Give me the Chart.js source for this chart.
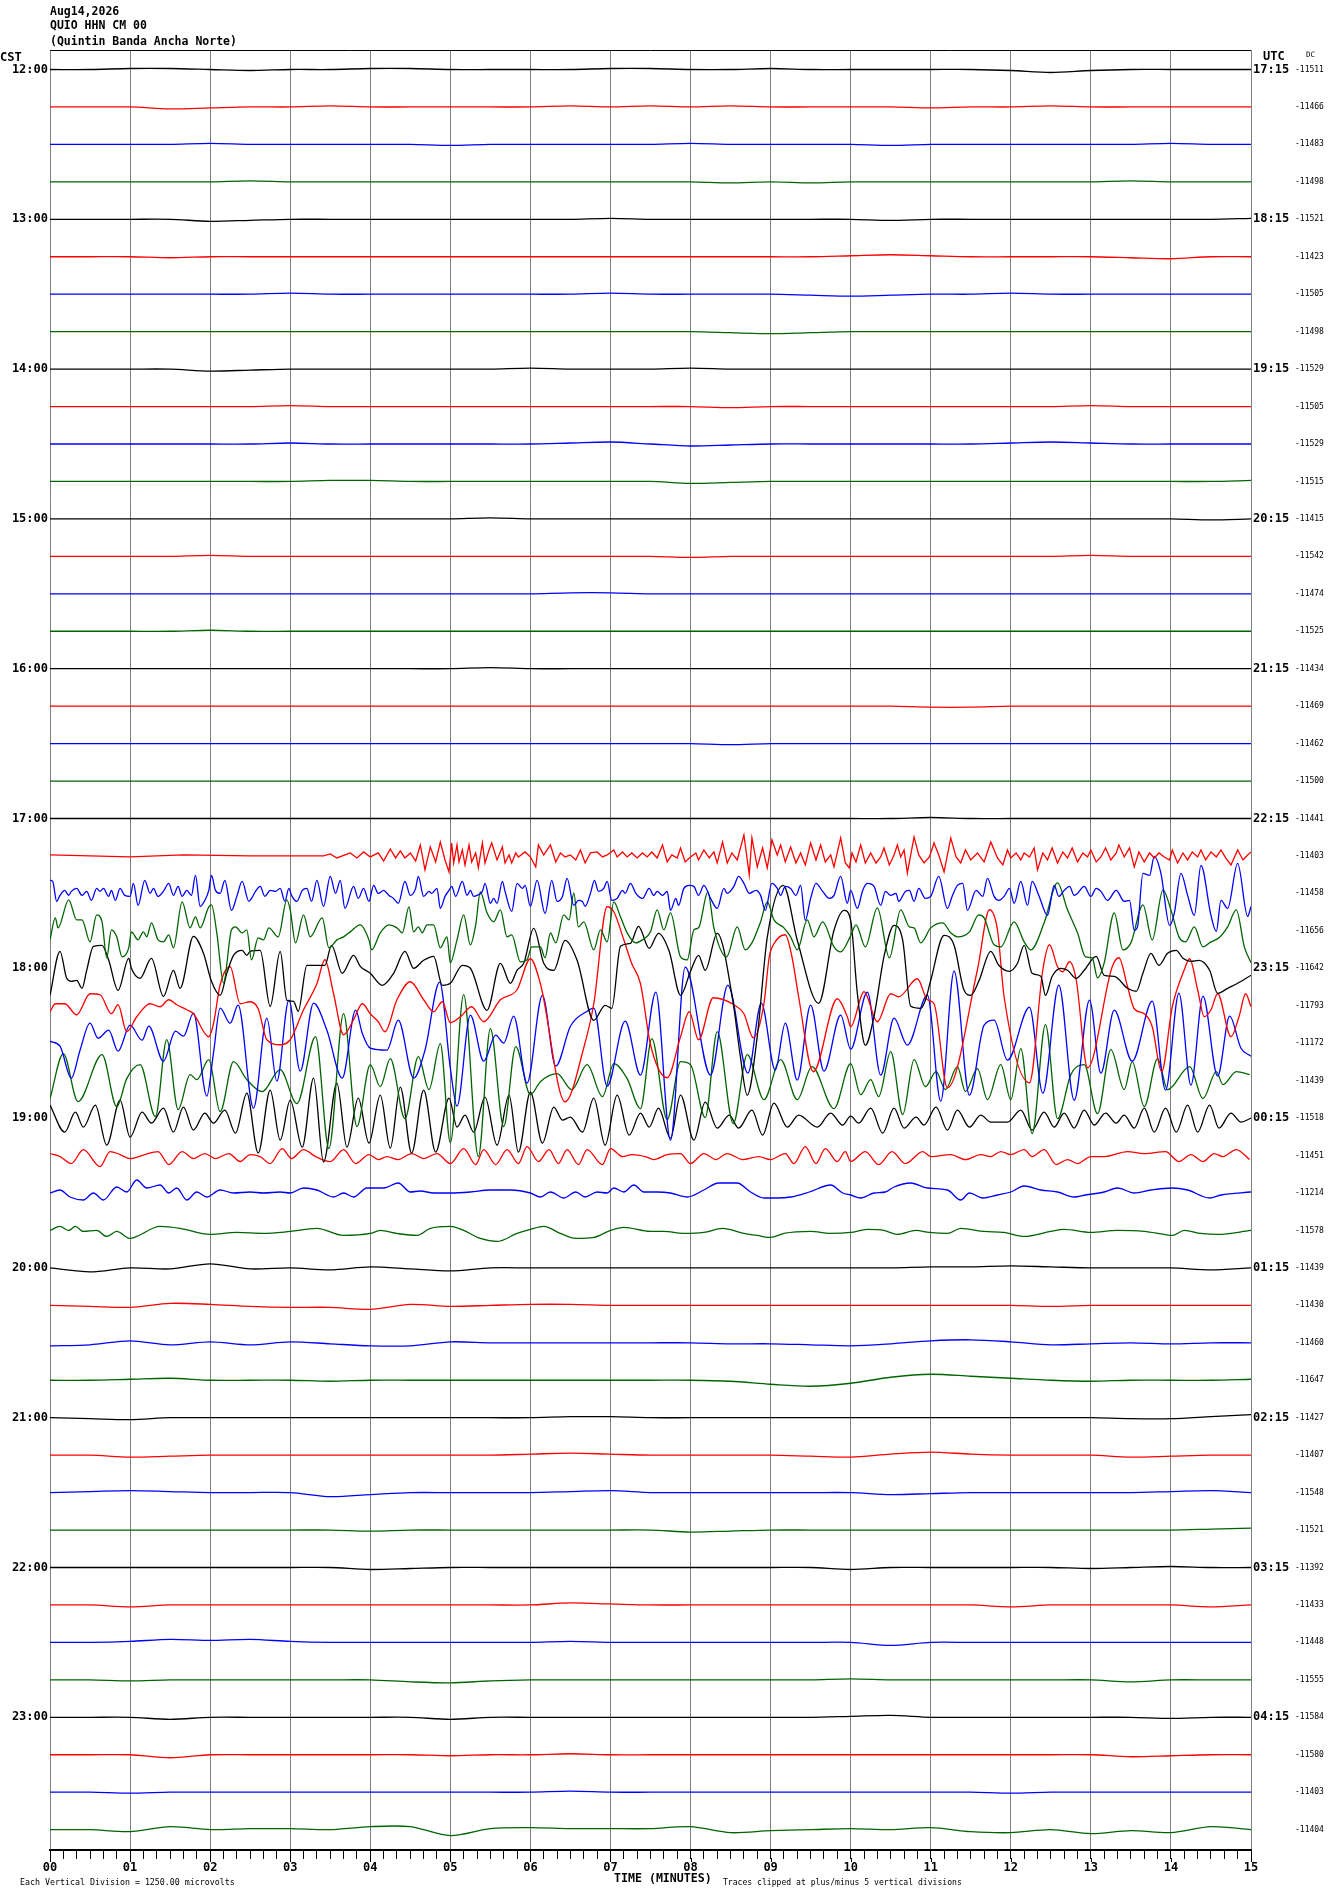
<!DOCTYPE html>
<html>
<head>
<meta charset="utf-8">
<script src="https://cdn.jsdelivr.net/npm/chart.js@4.4.1/dist/chart.umd.min.js"></script>
<style>
html, body { margin: 0; padding: 0; background: #fff; }
#wrap { position: relative; width: 1330px; height: 1894px; overflow: hidden; }
#wrap canvas { position: absolute; left: 0; top: 0; }
.t { position: absolute; font-family: "DejaVu Sans Mono", monospace; color: #000; white-space: pre; line-height: 1; }
.b { font-weight: bold; }
</style>
</head>
<body>
<div id="wrap">
  <canvas id="heli" width="1330" height="1894"></canvas>
  <div class="t b" style="left:50px;top:6px;font-size:11.5px">Aug14,2026</div>
  <div class="t b" style="left:50px;top:20px;font-size:11.5px">QUIO HHN CM 00</div>
  <div class="t b" style="left:50px;top:35.5px;font-size:11.5px">(Quintin Banda Ancha Norte)</div>
  <div class="t b" style="left:0px;top:51px;font-size:12px">CST</div>
  <div class="t b" style="left:1263px;top:50px;font-size:12px">UTC</div>
  <div class="t" style="left:1306px;top:51px;font-size:7.5px">DC</div>
  <div class="t" style="left:20px;top:1878px;font-size:8.3px">Each Vertical Division = 1250.00 microvolts</div>
  <div class="t b" style="left:614px;top:1873px;font-size:11.6px">TIME (MINUTES)</div>
  <div class="t" style="left:723px;top:1878px;font-size:8.1px">Traces clipped at plus/minus 5 vertical divisions</div>
</div>
<script>
// row labels
const cstLabels = ['12:00', '13:00', '14:00', '15:00', '16:00', '17:00', '18:00', '19:00', '20:00', '21:00', '22:00', '23:00'];
const utcLabels = ['17:15', '18:15', '19:15', '20:15', '21:15', '22:15', '23:15', '00:15', '01:15', '02:15', '03:15', '04:15'];
const minuteLabels = ['00', '01', '02', '03', '04', '05', '06', '07', '08', '09', '10', '11', '12', '13', '14', '15'];
const dcValues = [-11511, -11466, -11483, -11498, -11521, -11423, -11505, -11498,
    -11529, -11505, -11529, -11515, -11415, -11542, -11474, -11525,
    -11434, -11469, -11462, -11500, -11441, -11403, -11458, -11656,
    -11642, -11793, -11172, -11439, -11518, -11451, -11214, -11578,
    -11439, -11430, -11460, -11647, -11427, -11407, -11548, -11521,
    -11392, -11433, -11448, -11555, -11584, -11580, -11403, -11404];

// quiet traces: amplitude every 30 s across the 15 minutes
const r1200 = [0,0,1,1,0, -1,0,0,1,1, 0,0,0,0,1, 1,0,0,1,0, 0,0,0,0,-1, -3,-1,0,0,0, 0];
const r1215 = [0,0,0,-2,-1, 0,0,1,0,0, 0,0,0,1,0, 1,0,1,0,0, 0,0,-1,0,0, 1,0,0,0,0, 0];
const r1230 = [0,0,0,0,1, 0,0,0,0,0, -1,0,0,0,0, 0,1,0,0,0, 0,-1,0,0,0, 0,0,0,1,0, 0];
const r1245 = [0,0,0,0,0, 1,0,0,0,0, 0,0,0,0,0, 0,0,-1,0,-1, 0,0,0,0,0, 0,0,1,0,0, 0];
const r1300 = [0,0,0,0,-2, -1,0,0,0,0, 0,0,0,0,1, 0,0,0,0,0, 0,-1,0,0,0, 0,0,0,0,0, 1];
const r1315 = [0,0,0,-1,0, 0,0,0,0,0, 0,0,0,0,0, 0,0,0,0,0, 1,2,1,0,0, 0,0,-1,-2,0, 0];
const r1330 = [0,0,0,0,0, 0,1,0,0,0, 0,0,0,0,1, 0,0,0,0,-1, -2,-1,0,0,1, 0,0,0,0,0, 0];
const r1345 = [0,0,0,0,0, 0,0,0,0,0, 0,0,0,0,0, 0,0,-1,-2,-1, 0,0,0,0,0, 0,0,0,0,0, 0];
const r1400 = [0,0,0,0,-2, -1,0,0,0,0, 0,0,1,0,0, 0,1,0,0,0, 0,0,0,0,0, 0,0,0,0,0, 0];
const r1415 = [0,0,0,0,0, 0,1,0,0,0, 0,0,0,0,0, 0,0,-1,0,0, 0,0,0,0,0, 0,1,0,0,0, 0];
const r1430 = [0,0,0,0,0, 0,1,0,0,0, 0,0,0,1,2, 0,-2,-1,0,0, 0,0,0,0,1, 2,1,0,0,0, 0];
const r1445 = [0,0,0,0,0, 0,0,1,1,0, 0,0,0,0,0, 0,-2,-1,0,0, 0,0,0,0,0, 0,0,0,0,0, 1];
const r1500 = [0,0,0,0,0, 0,0,0,0,0, 0,1,0,0,0, 0,0,0,0,0, 0,0,0,0,0, 0,0,0,0,-1, 0];
const r1515 = [0,0,0,0,1, 0,0,0,0,0, 0,0,0,0,0, 0,-1,0,0,0, 0,0,0,0,0, 0,1,0,0,0, 0];
const r1530 = [0,0,0,0,0, 0,0,0,0,0, 0,0,0,1,1, 0,0,0,0,0, 0,0,0,0,0, 0,0,0,0,0, 0];
const r1545 = [0,0,0,0,1, 0,0,0,0,0, 0,0,0,0,0, 0,0,0,0,0, 0,0,0,0,0, 0,0,0,0,0, 0];
const r1600 = [0,0,0,0,0, 0,0,0,0,0, 0,1,0,0,0, 0,0,0,0,0, 0,0,0,0,0, 0,0,0,0,0, 0];
const r1615 = [0,0,0,0,0, 0,0,0,0,0, 0,0,0,0,0, 0,0,0,0,0, 0,0,-1,-1,0, 0,0,0,0,0, 0];
const r1630 = [0,0,0,0,0, 0,0,0,0,0, 0,0,0,0,0, 0,0,-1,0,0, 0,0,0,0,0, 0,0,0,0,0, 0];
const r1645 = [0,0,0,0,0, 0,0,0,0,0, 0,0,0,0,0, 0,0,0,0,0, 0,0,0,0,0, 0,0,0,0,0, 0];
const r1700 = [0,0,0,0,0, 0,0,0,0,0, 0,0,0,0,0, 0,0,0,0,0, 0,0,1,0,0, 0,0,0,0,0, 0];

// earthquake traces: [seconds, amplitude] at each peak and trough
const r1715 = [[0,1],[30,0],[60,-1],[100,1],[150,0],[180,0],[205,0],[210,2],[215,-2],[225,3],[230,-2],[235,4],[240,-1],
    [246,3],[250,-5],[255,7],[259,-2],[262.5,5],[266,-2],[270,3],[274,-5],[277.5,11],[281,-14],[285,9],[289,-6],[292.5,14],[296,-4],[299,-16],
    [301,13],[302.5,-7],[305,11],[306.5,-6],[309,6],[311,-9],[314,11],[316,-6],[319,3],[321,-12],[324,13],[326,-7],[329,6],[331,13],[335,-4],[339,9],[341,-7],[344,1],[346,-7],[349,3],[351,-1],[356,4],[360,-1],[364,-11],[366,11],[370,1],[375,11],[379,-6],[382.5,3],[386,-1],[390,1],[394,-4],[397.5,6],[401,-7],[405,3],[410,4],[414,-1],[417.5,1],[422.5,6],[425,-1],[429,4],[432.5,-1],[436,3],[440,-2],[444,3],[447.5,-1],[451,4],[455,-2],[459,11],[462.5,-6],[466,1],[470,-2],[472.5,8],[476,-6],[480,-1],[484,3],[486,-4],[490,6],[494,-2],[497.5,4],[500,-7],[504,14],[507.5,-7],[511,3],[515,-4],[520,21],[524,-19],[526,18],[530,-11],[534,8],[537.5,-12],[541,16],[545,1],[547.5,11],[551,-6],[555,9],[559,-7],[562.5,3],[566,-9],[570,13],[574,-4],[577.5,11],[581,-6],[585,1],[587.5,-11],[592.5,18],[596,-7],[599,-12],
    [601,3],[604,-6],[607.5,11],[611,-7],[615,3],[619,-7],[622.5,-1],[625,8],[629,-9],[632.5,1],[635,11],[637.5,-1],[640,6],[642.5,-17],[647.5,19],[651,1],[655,-7],[659,-1],[662.5,13],[666,1],[670,-16],[675,18],[679,-1],[682.5,-7],[686,6],[690,-4],[695,3],[700,-6],[705,14],[710,-2],[714,-9],[717.5,6],[720,-2],[724,3],[727.5,-4],[730,3],[734,-1],[737.5,8],[740,-14],[744,3],[747.5,-4],[751,8],[755,-7],[759,4],[762.5,-2],[766,8],[770,-6],[774,3],[777.5,-1],[780,6],[784,-6],[787.5,-1],[791,8],[795,-4],[799,3],[801,11],[805,-1],[809,8],[812.5,-11],[816,4],[820,-6],[824,3],[827.5,-2],[831,3],[835,-1],[839,-4],[841,6],[845,-7],[849,3],[852.5,-4],[856,4],[860,-1],[862.5,6],[866,-4],[870,4],[874,-1],[877.5,6],[881,-2],[885,-9],[890,6],[894,-4],[897.5,1],[900,4]];

const r1730 = [[0,13],[2,12],[5,-8],[7.5,-2],[11,3],[14,-2],[16,2],[20,5],[24,-2],[27.5,2],[31,-7],[35,5],[37.5,2],[40,5],[44,-3],[46,3],[49,-7],[52.5,5],[56,-2],[60,-3],[62.5,10],[66,-12],[71,13],[75,0],[77.5,5],[81,-3],[85,2],[89,10],[92.5,-2],[96,7],[99,-3],[102.5,3],[106,-2],[109,18],[112.5,-13],[116,-7],[119,3],[121,18],[124,3],[127.5,0],[131,13],[136,-17],[140,-3],[144,12],[149,-8],[151,-5],[154,2],[157.5,7],[161,-3],[165,3],[169,2],[172.5,5],[176,-8],[179,5],[181,-2],[185,-8],[189,3],[192.5,5],[196,-8],[200,13],[205,-13],[210,17],[214,0],[217.5,13],[221,-15],[227.5,7],[231,-5],[235,5],[239,-8],[242.5,8],[246,0],[250,3],[254,-2],[257.5,-5],[261,-10],[266,12],[270,-2],[274,5],[276,17],[280,-3],[284,2],[286,0],[290,5],[292.5,-15],[296,-3],[299,3],
    [301,7],[304,-3],[309,12],[312.5,-2],[315,3],[317.5,-3],[320,-2],[324,2],[326,10],[330,-10],[332.5,-5],[335,-10],[339,12],[341,2],[346,-18],[350,10],[354,5],[356,8],[360,-13],[365,13],[371,-20],[376,13],[380,-8],[384,-3],[387.5,15],[392.5,-12],[396,-7],[399,-8],[401,-13],[405,0],[408,13],[411,2],[415,5],[417.5,12],[421,-7],[425,-5],[429,3],[431,0],[435,10],[439,0],[444,-5],[449,5],[452.5,-2],[455,2],[459,-2],[462.5,2],[465,-17],[469,-5],[471,-12],[475,5],[479,8],[482.5,7],[486,-2],[490,8],[495,-5],[500,-15],[505,5],[507.5,0],[512.5,7],[516,17],[520,10],[524,0],[529,3],[532.5,-2],[536,-17],[541,10],[545,5],[547.5,-2],[551,7],[555,5],[559,-2],[562.5,8],[566,-27],[570,-5],[574,10],[579,2],[584,-5],[587.5,-2],[592.5,17],[597.5,-10],
    [600,3],[605,-15],[609,3],[612.5,10],[617.5,7],[622.5,-12],[626,2],[630,-2],[634,0],[636,-8],[641,2],[644,3],[647.5,-8],[651,5],[656,-5],[660,-3],[666,17],[672.5,-15],[676,-3],[680,8],[684,10],[687.5,-17],[694,3],[699,-3],[702.5,15],[707.5,-3],[711,-7],[715,-3],[719,5],[722.5,-10],[727.5,12],[732.5,-12],[736,12],[741,-2],[747.5,-22],[752.5,8],[756,-3],[760,3],[764,7],[767.5,-2],[770,0],[775,7],[780,-3],[784,5],[787.5,2],[792.5,-7],[799,3],[805,-8],[809,-7],[812.5,-37],[815,-33],[819,20],[824,18],[827.5,37],[832.5,20],[839,-32],[842.5,-20],[847.5,20],[852.5,-2],[857.5,-22],[862.5,28],[870,-22],[874,-38],[877.5,-7],[882.5,-15],[890,30],[897.5,-23],[900,-13]];

const r1745 = [[0,-9],[4,13],[6,3],[14,31],[20,11],[24,11],[30,-11],[35,16],[39,9],[42.5,-27],[46,1],[50,-6],[54,-26],[59,-17],[61,-1],[66,-9],[70,-1],[72.5,-6],[76,8],[81,-9],[85,-11],[89,-4],[92.5,-17],[99,29],[105,3],[109,14],[112.5,3],[119,24],[121,26],[125,-2],[130,-52],[136,1],[139,4],[144,-2],[147.5,1],[151,-29],[156,-7],[160,-9],[164,3],[171,-6],[177.5,31],[180,21],[184,-12],[190,16],[195,-6],[204,13],[209,-17],[215,-9],[220,-6],[225,-1],[232.5,6],[239,-9],[241,-19],[247.5,-2],[254,6],[260,3],[264,-2],[269,24],[272.5,-1],[276,4],[279,-2],[282.5,6],[287.5,6],[292.5,-17],[297.5,-6],
    [300,-32],[305,-9],[310,16],[315,-14],[319,6],[322.5,39],[327.5,18],[332.5,9],[337.5,21],[342.5,-6],[346,-4],[352.5,-31],[357.5,-29],[361,-16],[367.5,-16],[371,-27],[375,-2],[379,-12],[385,16],[389,11],[392.5,38],[396,4],[400,9],[407.5,-19],[412.5,1],[417.5,-11],[422.5,29],[427.5,14],[432.5,-2],[439,-12],[444,-9],[450,-1],[455,21],[460,1],[465,18],[472.5,-26],[477.5,-29],[482.5,1],[486,3],[493,39],[497.5,3],[507,-26],[515,4],[521,-19],[526,-12],[532.5,9],[537.5,29],[542.5,11],[550,3],[555,-6],[560,-19],[567.5,11],[572.5,-6],[579,9],[587.5,-16],[592.5,-21],
    [600,-5],[604,6],[611,-16],[620,23],[629,-27],[637.5,21],[644,4],[647.5,3],[652.5,-12],[660,3],[669,8],[675,-2],[680,-6],[689,-1],[696,16],[700,13],[707.5,-14],[712.5,-16],[722.5,9],[730,-11],[735,-19],[745,8],[755,48],[762.5,21],[770,-2],[776,-26],[781,-27],[785,-47],[790,-32],[797.5,18],[804,-19],[810,-12],[819,26],[826,-9],[834,41],[840,21],[846,-6],[851,-11],[857.5,4],[864,-16],[870,-11],[876,-7],[882.5,4],[889,21],[895,-16],[900,-32]];

const r1800 = [[0,-27],[7.5,17],[12.5,-10],[16,-13],[20,-12],[24,-20],[27.5,-2],[32.5,22],[39,23],[44,8],[51,-22],[59,10],[61,0],[67.5,-10],[76,10],[85,-28],[92.5,-2],[97.5,-20],[107.5,32],[115,15],[121,-13],[127.5,-27],[132.5,-5],[137.5,13],[144,18],[147.5,13],[150,17],[157.5,18],[165,-38],[172.5,17],[177.5,-32],[182.5,-33],[186,-43],[192.5,3],[200,3],[206,3],[211,23],[219,-5],[227.5,13],[232.5,2],[240,-5],[249,-17],[257.5,-5],[266,17],[272.5,0],[280,8],[287.5,12],[294,-17],
    [300,-15],[309,3],[315,0],[327.5,-42],[337.5,5],[345,-15],[350,-2],[355,5],[362.5,40],[370,5],[377.5,-2],[386,28],[395,8],[407.5,-52],[416,-37],[421,-40],[427.5,22],[435,25],[441,42],[449,20],[456,35],[464,17],[472.5,-27],[480,-3],[486,13],[491,-2],[500,35],[512,-35],[517,-85],[522.5,-127],[530,-68],[537.5,31],[549.5,83],[560,28],[576,-35],[587.5,38],[595,58],[600,48],
    [605,-25],[611,-77],[617.5,-48],[625,12],[632.5,43],[639,28],[645,-38],[652.5,-40],[656,-32],[660,-12],[670,33],[677.5,23],[685,-22],[690,-27],[696,-13],[705,17],[711,3],[719,-3],[725,5],[730,23],[736,-5],[742.5,-8],[746,-27],[751,-8],[757.5,0],[762.5,-2],[769,-10],[775,-2],[784,12],[790,-7],[797.5,-8],[807.5,-20],[814,-23],[819,-5],[825,15],[831,3],[837.5,15],[844,18],[849,10],[855,7],[861,8],[869,-2],[875,-25],[882.5,-20],[890,-15],[900,-7]];

const r1815 = [[0,-6],[4,2],[11,2],[20,-9],[30,12],[37.5,11],[46,-8],[51,1],[57.5,-26],[65,-11],[75,2],[82.5,-1],[89,6],[95,1],[102.5,-4],[107.5,-8],[119,-31],[122.5,-18],[127.5,21],[135,39],[142.5,2],[150,4],[156,-3],[162.5,-34],[172.5,-39],[180,-34],[190,-4],[200,22],[206,46],[212.5,12],[220,-29],[227.5,-14],[234,2],[240,-8],[246,-16],[251,-26],[260,6],[270,24],[280,6],[287.5,-6],[294,4],
    [300,-17],[307.5,-11],[316,-1],[325,-16],[337.5,6],[350,16],[360,47],[367.5,22],[386,-96],[400,-42],[407.5,2],[417.5,99],[422.5,94],[430,66],[436,42],[442.5,22],[450,-39],[462.5,-72],[472.5,-31],[479,-6],[486,-34],[497,8],[512.5,1],[520,-8],[527,-32],[535,2],[539,49],[542.5,62],[551,71],[556,49],[561,9],[572,-66],[590,7],[597.5,-11],
    [600,-21],[610,14],[620,-16],[630,12],[636,9],[650,27],[657.5,6],[662.5,2],[672.5,-82],[695,36],[704,96],[710,76],[715,9],[734,-77],[744,36],[749,61],[755,39],[759,34],[764,44],[769,26],[777.5,-62],[796,39],[801,48],[807.5,19],[812.5,-3],[820,-8],[826,-21],[833,-66],[841,-1],[850,36],[854,47],[860,16],[865,-11],[870,-4],[875,12],[885,-31],[891,-11],[896,12],[900,-1]];

const r1830 = [[0,2],[7.5,-3],[16,-35],[22.5,-7],[30,20],[36,5],[44,13],[51,-8],[60,18],[69,3],[74,17],[85,-18],[94,12],[100,7],[107.5,30],[117.5,-53],[122.5,-10],[127.5,35],[135,20],[141,38],[152.5,-65],[162.5,25],[170,-38],[179,43],[187.5,-28],[197.5,40],[207.5,13],[219,-35],[229,33],[234,10],[240,-5],[252.5,-7],[261,23],[272.5,-35],[281,-7],[292,61],
    [300,-25],[305,-63],[315,28],[325,-18],[334,8],[340,0],[347.5,27],[357.5,-40],[369,48],[379,-23],[390,17],[402.5,32],[407.5,35],[417.5,-43],[431,22],[442.5,-32],[454,51],[465,-97],[476,76],[495,-32],[508,58],[523,-30],[533,40],[543.5,-27],[551,20],[560,-37],[570,38],[580,-28],[592.5,28],
    [600,-6],[612.5,51],[622.5,-32],[632.5,25],[642.5,-2],[657.5,48],[667.5,-58],[677.5,72],[689,-52],[700,18],[707.5,23],[717.5,-17],[734,36],[744,-50],[756,58],[767.5,-57],[779,43],[787.5,-30],[797.5,33],[811,-18],[826,42],[836,-47],[846,50],[855,-42],[864,47],[875,-33],[884,27],[892.5,-5],[900,-13]];

const r1845 = [[0,-18],[10,27],[21,-21],[39,26],[50,-26],[57.5,2],[67.5,16],[79,-36],[87.5,41],[96,-29],[105,6],[110,1],[119,21],[127.5,-31],[137.5,19],[147.5,1],[159,-11],[172.5,11],[185,-23],[199,44],[209,-68],[220,67],[230,-46],[240,16],[247.5,-6],[255,22],[266,-38],[276,24],[284,-9],[292.5,37],[300,-62],
    [310,86],[321,-76],[330,52],[340,-46],[349,34],[360,-14],[367.5,-1],[380,7],[391,-9],[402.5,16],[414,-16],[422.5,17],[432.5,2],[442.5,-28],[451,42],[462.5,-39],[472.5,19],[480,16],[491,-37],[500,49],[512,-43],[522.5,26],[535,-19],[547.5,21],[560,-19],[571,14],[587.5,-28],[600,17],
    [607.5,-14],[615,1],[621,-16],[630,29],[639,-34],[647.5,21],[656,-6],[664,9],[671,-9],[680,14],[686,-11],[695,12],[702.5,-19],[712.5,16],[720,-19],[727.5,32],[736,-53],[746,56],[755,-38],[765,6],[775,16],[785,-33],[795,31],[805,-9],[811,19],[820,-26],[830,22],[837.5,-9],[854,14],[864,-18],[874,9],[879,-4],[889,9],[899,6]];

const r1900 = [[0,13],[11,-14],[19,6],[25,-9],[34,13],[42.5,-27],[52.5,18],[60,-19],[69,6],[76,-5],[85,10],[92.5,-14],[100,11],[107.5,-12],[116,5],[122.5,-5],[131,8],[139,-15],[147.5,25],[156,-35],[165,28],[172.5,-22],[180,18],[189,-29],[197.5,40],[205,-44],[215,35],[222.5,-29],[231,20],[239,-25],[247.5,23],[255,-30],[262.5,31],[271,-35],[280,28],[289,-34],[299,20],
    [305,-9],[311,3],[317.5,-14],[326,21],[335,-27],[344,23],[351,-34],[360,26],[369,-25],[377.5,11],[384,-2],[390,1],[399,-14],[407.5,20],[416,-27],[425,23],[434,-17],[442.5,5],[449,-9],[456,10],[465,-20],[472.5,23],[482.5,-22],[491,16],[500,-10],[509,3],[516,-10],[526,8],[534,-17],[542.5,15],[552.5,-9],[561,3],[575,-9],[585,5],[594,-7],
    [600,2],[606,-5],[615,10],[624,-15],[632.5,10],[640,-10],[649,1],[655,-7],[664,11],[672.5,-12],[680,8],[689,-9],[697.5,3],[705,-4],[717.5,-4],[727.5,8],[736,-12],[745,6],[752.5,-9],[760,5],[767.5,-10],[775,8],[782.5,-7],[791,5],[799,-5],[805,3],[812.5,-10],[820,10],[827.5,-14],[836,10],[844,-14],[852.5,13],[860,-14],[869,13],[876,-10],[885,5],[892.5,-4],[900,0]];

const r1915 = [[0,2],[7.5,-1],[16,-8],[25,6],[37.5,-11],[45,4],[52.5,1],[60,-3],[71,1],[81,4],[89,-9],[99,4],[107.5,-3],[116,2],[124,-3],[134,2],[142.5,-6],[150,1],[157.5,-1],[165,-8],[174,7],[181,-3],[190,6],[199,-1],[210,-6],[220,6],[229,-8],[239,1],[246,-4],[252.5,-1],[261,-4],[271,2],[280,-3],[290,2],
    [300,-8],[310,7],[319,-9],[325,6],[334,-9],[342.5,6],[351,-8],[357.5,9],[366,-6],[374,6],[381,-8],[387.5,6],[396,-9],[402.5,6],[414,-9],[420,7],[429,-1],[436,1],[446,-1],[452.5,-4],[462.5,1],[472.5,2],[480,-8],[490,2],[499,-4],[507.5,2],[519,-4],[531,-1],[540,-4],[551,2],[557.5,-8],[566,9],[574,-8],[581,7],[590,-6],[596,4],
    [600,-6],[611,4],[621,-9],[631,4],[641,-8],[654,4],[660,-1],[675,1],[686,-4],[697.5,1],[705,-1],[712.5,4],[720,1],[730,6],[736,-1],[745,6],[754,-9],[762.5,-4],[770,-8],[780,-1],[790,-1],[807.5,4],[820,2],[836,4],[846,-6],[855,1],[864,-6],[872.5,2],[879,-1],[889,6],[899,-4]];

const r1930 = [[0,0],[7.5,3],[15,-4],[25,-7],[32.5,0],[40,-7],[50,6],[57.5,1],[65,13],[72.5,5],[82.5,8],[89,0],[95,5],[102.5,-7],[110,1],[117.5,-4],[127.5,3],[137.5,0],[150,1],[160,0],[172.5,1],[180,0],[190,5],[200,3],[212.5,-4],[220,0],[227.5,-4],[237.5,5],[250,5],[261,10],[270,1],[277.5,2],[287.5,0],
    [300,0],[315,1],[330,3],[345,3],[360,0],[367.5,-4],[375,1],[385,-5],[394,1],[401,-4],[410,1],[417.5,0],[422.5,5],[430,1],[437.5,8],[445,1],[455,1],[465,0],[477.5,-4],[490,3],[501,10],[515,10],[525,1],[535,-5],[545,-5],[555,-4],[569,1],[585,8],[594,0],
    [600,-2],[607.5,-5],[617.5,0],[626,1],[632.5,6],[645,10],[657.5,5],[672.5,3],[682.5,-7],[689,0],[699,-5],[710,-2],[720,1],[730,7],[742.5,3],[755,1],[767.5,-4],[776,-2],[790,1],[800,5],[812.5,0],[825,3],[841,5],[852.5,3],[869,-5],[877.5,-2],[900,1]];

const r1945 = [[0,0],[7.5,4],[14,0],[19,4],[25,-1],[35,0],[42.5,-6],[50,-1],[60,-8],[65,-6],[82.5,4],[97.5,2],[120,-4],[140,-2],[160,-3],[180,-1],[200,2],[220,-5],[240,-3],[247.5,0],[260,-3],[275,-5],[285,2],
    [300,4],[310,0],[322.5,-8],[335,-11],[350,-3],[360,1],[370,4],[382.5,-3],[394,-8],[407.5,-7],[420,0],[430,3],[450,-1],[460,-1],[475,-3],[490,-2],[504,2],[520,-3],[530,-5],[540,-7],[550,-3],[570,-1],[585,-3],
    [600,-2],[612.5,1],[625,0],[635,-4],[649,0],[659,-2],[672.5,-3],[682.5,2],[700,-1],[715,-2],[730,-6],[750,-1],[760,1],[780,-2],[800,0],[820,-1],[835,-4],[841,-5],[850,0],[862.5,-3],[875,-4],[900,0]];

const r2000 = [0,-4,0,-1,4, -1,0,-2,1,-1, -3,0,0,0,0, 0,0,0,0,0, 0,0,1,1,2, 1,0,0,0,-2, 0];
const r2015 = [0,-1,-2,2,1, -1,-2,-2,-4,1, -1,0,1,1,0, 0,0,0,0,0, 0,0,0,0,0, -1,0,0,0,0, 0];
const r2030 = [-3,-2,2,-2,1, -2,1,-1,-3,-3, 1,0,0,0,0, 0,0,-1,-1,-2, -3,-1,2,3,1, -2,-1,0,-1,0, 0];
const r2045 = [0,0,1,2,0, 0,0,-1,0,0, 0,0,0,0,0, 0,0,-1,-4,-6, -3,3,6,4,2, 0,-1,0,0,0, 1];
const r2100 = [0,-1,-2,0,0, 0,0,0,0,0, 0,0,0,1,1, 0,0,0,0,0, 0,0,0,0,0, 0,0,-1,-1,1, 3];
const r2115 = [0,0,-2,-1,0, 0,0,0,0,0, 0,0,1,2,1, 0,0,0,0,-1, -2,1,3,1,0, 0,0,-2,-1,0, 0];
const r2130 = [0,1,2,1,0, 0,0,-4,-2,0, 0,0,0,1,2, 0,0,0,0,0, 0,-2,-1,0,0, 0,0,0,1,2, 0];
const r2145 = [0,0,0,0,0, 0,0,0,-1,0, 0,0,0,0,0, 0,-2,-1,0,0, 0,0,0,0,0, 0,0,0,0,1, 2];
const r2200 = [0,0,0,0,0, 0,0,0,-2,-1, 0,0,0,0,0, 0,0,0,0,0, -2,0,0,0,0, 0,-1,0,1,0, 0];
const r2215 = [0,0,-2,0,0, 0,0,0,0,0, 0,0,0,2,1, 0,0,0,0,0, 0,0,0,0,-2, 0,0,0,0,-2, 0];
const r2230 = [0,0,1,3,2, 3,1,0,0,0, 0,0,0,1,0, 0,0,0,0,0, 0,-3,0,0,0, 0,0,0,0,0, 0];
const r2245 = [0,0,-1,0,0, 0,0,0,0,-2, -3,-1,0,0,0, 0,0,0,0,0, 1,0,0,0,0, 0,0,-2,0,0, 0];
const r2300 = [0,0,0,-2,0, 0,0,0,0,0, -2,0,0,0,0, 0,0,0,0,0, 1,2,0,0,0, 0,0,0,-1,0, 0];
const r2315 = [0,0,0,-3,0, 0,0,0,0,0, -1,0,0,1,0, 0,0,0,0,0, 0,0,0,0,0, 0,0,-2,-1,0, 0];
const r2330 = [0,0,-1,0,0, 0,0,0,0,0, 0,0,0,1,0, 0,0,0,0,0, 0,0,0,0,-1, 0,0,0,0,0, 0];
const r2345 = [0,0,-2,3,0, 1,1,0,3,3, -6,1,2,1,1, 1,3,-3,-1,0, 1,0,2,-2,-3, 0,-4,-1,-3,3, 0];

const traces = [r1200, r1215, r1230, r1245, r1300, r1315, r1330, r1345,
    r1400, r1415, r1430, r1445, r1500, r1515, r1530, r1545,
    r1600, r1615, r1630, r1645, r1700, r1715, r1730, r1745,
    r1800, r1815, r1830, r1845, r1900, r1915, r1930, r1945,
    r2000, r2015, r2030, r2045, r2100, r2115, r2130, r2145,
    r2200, r2215, r2230, r2245, r2300, r2315, r2330, r2345];

const ROW = 37.45;          // one vertical division
const SPAN = 900;           // seconds per line
const COLORS = ['#000000', '#ff0000', '#0000ff', '#006400'];
const FONT = '"DejaVu Sans Mono", monospace';

const datasets = traces.map((tr, i) => {
    const pairs = Array.isArray(tr[0]);
    const step = SPAN / (tr.length - 1);
    const points = pairs
        ? tr.map(p => ({ x: p[0], y: -i * ROW + p[1] }))
        : tr.map((a, k) => ({ x: k * step, y: -i * ROW + a }));
    return {
        data: points,
        borderColor: COLORS[i % 4],
        borderWidth: 1.3,
        pointRadius: 0,
        fill: false,
        tension: pairs ? 0 : 0.3,
        cubicInterpolationMode: pairs && i !== 21 ? 'monotone' : 'default'
    };
});

const rowTicks = scale => {
    scale.ticks = traces.map((t, i) => ({ value: -i * ROW }));
};

// black top edge, and the minute ticks a little longer than the 10 s ones
const frame = {
    id: 'frame',
    beforeDatasetsDraw(chart) {
        const { ctx, chartArea } = chart;
        ctx.save();
        ctx.strokeStyle = '#000';
        ctx.lineWidth = 1;
        ctx.beginPath();
        ctx.moveTo(chartArea.left, chartArea.top + 0.5);
        ctx.lineTo(chartArea.right, chartArea.top + 0.5);
        ctx.stroke();
        ctx.restore();
    },
    afterDraw(chart) {
        const { ctx, chartArea } = chart;
        const x = chart.scales.x;
        ctx.save();
        ctx.strokeStyle = '#000';
        ctx.lineWidth = 1;
        ctx.beginPath();
        for (let m = 0; m < minuteLabels.length; m++) {
            const px = Math.round(x.getPixelForValue(m * 60)) + 0.5;
            ctx.moveTo(px, chartArea.bottom + 8);
            ctx.lineTo(px, chartArea.bottom + 12);
        }
        ctx.stroke();
        ctx.restore();
    }
};

new Chart(document.getElementById('heli'), {
    type: 'line',
    data: { datasets: datasets },
    plugins: [frame],
    options: {
        responsive: false,
        animation: false,
        events: [],
        layout: { padding: { top: 50, left: 0, right: 0, bottom: 0 } },
        plugins: { legend: { display: false }, tooltip: { enabled: false } },
        scales: {
            x: {
                type: 'linear',
                position: 'bottom',
                min: 0,
                max: SPAN,
                afterFit: s => { s.height = 44; },
                afterBuildTicks: s => {
                    const list = [];
                    for (let v = 0; v <= SPAN; v += 10) list.push({ value: v });
                    s.ticks = list;
                },
                ticks: {
                    autoSkip: false,
                    maxRotation: 0,
                    minRotation: 0,
                    padding: 2,
                    color: '#000',
                    font: { family: FONT, size: 12, weight: 'bold' },
                    callback: v => (v % 60 === 0 ? minuteLabels[v / 60] : '')
                },
                grid: {
                    color: c => (c.tick && c.tick.value % 60 === 0 ? '#808080' : 'rgba(0,0,0,0)'),
                    tickColor: '#000',
                    tickLength: 9,
                    lineWidth: 1
                },
                border: { display: true, color: '#000', width: 2 }
            },
            y: {
                position: 'left',
                min: -(1800 - 19.5),
                max: 19.5,
                afterFit: s => { s.width = 50; },
                afterBuildTicks: rowTicks,
                ticks: {
                    autoSkip: false,
                    padding: 2,
                    color: '#000',
                    font: { family: FONT, size: 12, weight: 'bold' },
                    callback: (v, i) => (i % 4 === 0 ? cstLabels[i / 4] : '')
                },
                grid: { display: false, drawTicks: false },
                border: { display: false }
            },
            y2: {
                position: 'right',
                min: -(1800 - 19.5),
                max: 19.5,
                afterFit: s => { s.width = 42; },
                afterBuildTicks: rowTicks,
                ticks: {
                    autoSkip: false,
                    padding: 2,
                    color: '#000',
                    font: { family: FONT, size: 12, weight: 'bold' },
                    callback: (v, i) => (i % 4 === 0 ? utcLabels[i / 4] : '')
                },
                grid: { display: false, drawTicks: false },
                border: { display: false }
            },
            y3: {
                position: 'right',
                min: -(1800 - 19.5),
                max: 19.5,
                afterFit: s => { s.width = 37; },
                afterBuildTicks: rowTicks,
                ticks: {
                    autoSkip: false,
                    padding: 2,
                    color: '#000',
                    font: { family: FONT, size: 8 },
                    callback: (v, i) => String(dcValues[i])
                },
                grid: { display: false, drawTicks: false },
                border: { display: false }
            }
        }
    }
});
</script>
</body>
</html>
